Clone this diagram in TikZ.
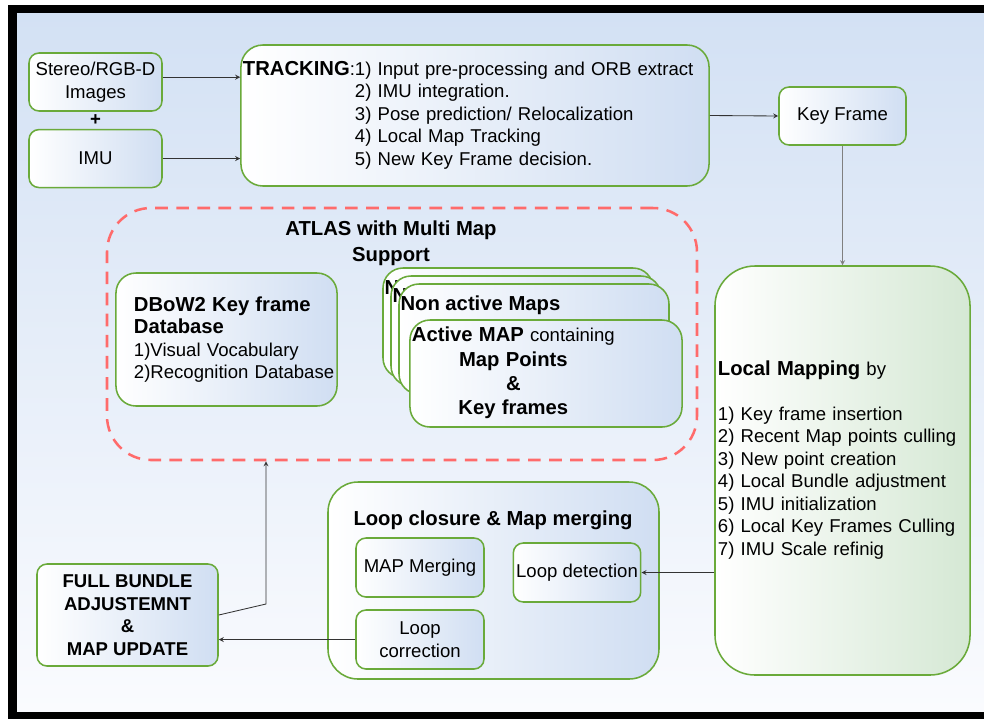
\documentclass[tikz,border=0pt]{standalone}
\usepackage{fontspec}
\setmainfont{Liberation Sans}
\usetikzlibrary{shapes,arrows,positioning,calc}

\definecolor{boxgreen}{HTML}{6AAA3A}
\definecolor{boxblue}{HTML}{D0DEF2}
\definecolor{mapgreen}{HTML}{D5E8D4}
\definecolor{atlasred}{HTML}{FF6B6B}
\definecolor{bgtop}{HTML}{D3E1F4}
\definecolor{bgbottom}{HTML}{FAFBFE}
\definecolor{linegray}{HTML}{333333}

\newcommand{\px}{0.025cm}
\newcommand{\fsn}{\fontsize{13.2}{16}\selectfont}
\newcommand{\fsb}{\fontsize{14.4}{17.3}\selectfont\bfseries}

\begin{document}
\begin{tikzpicture}[
    x=0.025cm, y=-0.025cm,
    dims/.style args={#1x#2}{minimum width=#1*\px, minimum height=#2*\px},
    block/.style={rectangle, draw=boxgreen, line width=1.1pt, left color=white, right color=boxblue, rounded corners=0.25cm, font=\fsn, align=center, inner sep=2pt},
    bigblock/.style={block, rounded corners=0.55cm},
    mapping/.style={block, right color=mapgreen, rounded corners=1cm},
    mapcard/.style={block, rounded corners=0.5cm},
    stacked/.style={mapcard, dims=270x110, label={[name=#1, anchor=north west, xshift=0.05cm, yshift=-0.32cm, font=\fsb, inner sep=0pt]north west:Non active Maps}},
    atlas/.style={rectangle, draw=atlasred, line width=1.8pt, dash pattern=on 9pt off 6pt, rounded corners=1.1cm},
    heading/.style={font=\fsb, align=center},
    arrow/.style={->, >=stealth, draw=linegray, line width=0.6pt}
]
    \useasboundingbox (0,0) rectangle (984,719);

    % Frame and background
    \fill[white] (0,0) rectangle (984,719);
    \fill[black] (8,5) rectangle (990,719);
    \shade[top color=bgtop, bottom color=bgbottom] (17,13) rectangle (990,711);

    % Inputs
    \node[block, dims=133x58] (stereo) at (95.5,82) {Stereo/RGB-D\\Images};
    \node[block, dims=133x58, below=0.425cm of stereo] (imu) {IMU};
    \node[font=\fsn\bfseries] (plus) at ($(stereo.south)!0.5!(imu.north)$) {+};

    % Tracking
    \node[bigblock, dims=468x141, align=left, text width=11.6cm, inner xsep=0.05cm] (tracking) at (475,115.5) {%
        \begin{tabular}{@{}l@{}l@{}}
        {\fsb TRACKING}: & 1) Input pre-processing and ORB extract\\
        & 2) IMU integration.\\
        & 3) Pose prediction/ Relocalization\\
        & 4) Local Map Tracking\\
        & 5) New Key Frame decision.
        \end{tabular}};
    \node[block, dims=127x58] (keyframe) at (842.5,116) {Key Frame};

    % Local mapping
    \node[mapping, dims=255x409, align=left, text width=6.225cm, inner xsep=0.075cm] (localmap) at (842.5,470.5) {%
        {\fsb Local Mapping} by\\[16pt]
        1) Key frame insertion\\
        2) Recent Map points culling\\
        3) New point creation\\
        4) Local Bundle adjustment\\
        5) IMU initialization\\
        6) Local Key Frames Culling\\
        7) IMU Scale refinig\\[2pt]~};

    % Atlas
    \node[atlas, dims=590x252] (atlas) at (402,334) {};
    \node[heading] (atlastitle) at (391,243) {ATLAS with Multi Map\\[1pt]Support};
    \node[block, dims=221x133, align=left, text width=4.625cm, inner xsep=0.45cm, rounded corners=0.5cm] (dbow) at (226.5,339.5) {%
        {\fsb DBoW2 Key frame\\Database}\\
        1)Visual Vocabulary\\
        \mbox{2)Recognition Database}};
    \node[stacked=back1lbl] (back1) at (518,323) {};
    \node[stacked=back2lbl] (back2) at (526,331) {};
    \node[stacked=back3lbl] (back3) at (534,339) {};
    \node[mapcard, dims=272x107, align=left, text width=6.7cm, inner xsep=0.05cm] (activemap) at (546,373.5) {%
        \def\arraystretch{1.08}\begin{tabular}{@{}c@{}}
        {\fsb Active MAP} containing\\
        {\fsb Map Points}\\
        {\fsb \&}\\
        {\fsb Key frames}
        \end{tabular}};

    % Loop closure
    \node[block, dims=331x197, rounded corners=0.75cm] (loopbox) at (493.5,580.5) {};
    \node[heading] (looptitle) at (493,520) {Loop closure \& Map merging};
    \node[block, dims=128x59] (merging) at (420,567.5) {MAP Merging};
    \node[block, dims=126x59] (loopdet) at (577,572.5) {Loop detection};
    \node[block, dims=128x59] (loopcorr) at (420,639.5) {Loop\\correction};

    % Full bundle adjustment
    \node[block, dims=181x102, font=\fsn\bfseries] (fullba) at (127.5,615) {FULL BUNDLE\\ADJUSTEMNT\\\&\\MAP UPDATE};

    % Arrows
    \coordinate (stereoout) at ([yshift=0.12cm]stereo.east);
    \draw[arrow] (stereoout) -- (stereoout -| tracking.west);
    \draw[arrow] (imu.east) -- (imu.east -| tracking.west);
    \draw[arrow] (tracking.east) -- (keyframe.west);
    \draw[arrow, draw=gray] (keyframe.south) -- (localmap.north);
    \draw[arrow] (loopdet.east -| localmap.west) -- (loopdet.east);
    \draw[arrow] (loopcorr.west) -- (loopcorr.west -| fullba.east);
    \coordinate (riser) at (266,604);
    \draw[arrow] (fullba.east) -- (riser) -- (riser |- atlas.south);
\end{tikzpicture}
\end{document}
